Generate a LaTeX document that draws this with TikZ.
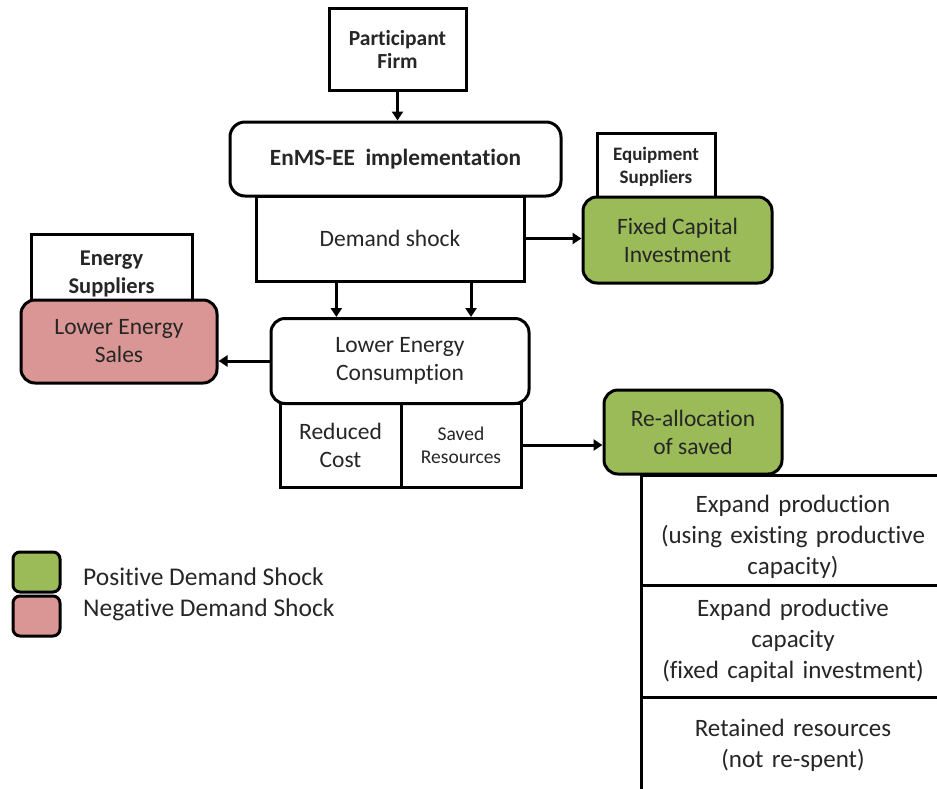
\documentclass[tikz,border=0pt]{standalone}
\usepackage{fontspec}
\setmainfont[Ligatures=NoCommon]{Carlito}
\usetikzlibrary{arrows.meta,calc}
\definecolor{posgreen}{HTML}{9BBB59}
\definecolor{negred}{HTML}{D99694}
\definecolor{txt}{HTML}{262626}
\tikzset{
  box/.style={draw=black, line width=3pt, fill=white, align=center, text=txt, inner sep=2pt},
  rbox/.style={box, rounded corners=14pt},
  arr/.style={line width=3pt, -{Triangle[width=11pt,length=9pt]}},
  fmain/.style={font=\fontsize{23.5}{28}\selectfont},
  fsmall/.style={font=\fontsize{19.5}{23}\selectfont},
  fright/.style={font=\fontsize{25}{31}\selectfont},
  flegend/.style={font=\fontsize{25.5}{30}\selectfont},
}
\begin{document}
\begin{tikzpicture}[x=1pt,y=-1pt]
\useasboundingbox (0,0) rectangle (937,788);
% top
\node[box,font=\fontsize{21.5}{23}\selectfont\bfseries,minimum width=137pt,minimum height=82pt] (pf) at (397.5,49) {Participant\\Firm};
\node[box,rounded corners=15pt,font=\fontsize{23.3}{27}\selectfont\bfseries,minimum width=331pt,minimum height=74pt] (enms) at (395.5,159) {EnMS-EE\ \ implementation};
\node[box,fmain,minimum width=268pt,minimum height=85pt] (ds) at (390,238.5) {Demand shock};
% equipment suppliers / fixed capital
\node[box,font=\fontsize{19}{23}\selectfont\bfseries,minimum width=118pt,minimum height=67pt] (eq) at (656,166.5) {Equipment\\Suppliers};
\node[rbox,fill=posgreen,fmain,minimum width=189pt,minimum height=86pt] (fci) at (677.5,240) {Fixed Capital\\Investment};
% energy suppliers / lower energy sales
\node[box,font=\fontsize{22.5}{28}\selectfont\bfseries,minimum width=161pt,minimum height=80pt] (es) at (111.5,274) {Energy\\Suppliers};
\node[rbox,fill=negred,fmain,minimum width=196pt,minimum height=83pt] (les) at (119,341.5) {Lower Energy\\Sales};
% lower energy consumption
\node[box,fmain,minimum width=121pt,minimum height=84pt] (rc) at (340.5,445) {Reduced\\Cost};
\node[box,fsmall,minimum width=120pt,minimum height=84pt] (sr) at (461,445) {Saved\\Resources};
\node[rbox,fmain,minimum width=258pt,minimum height=85pt] (lec) at (400,361) {Lower Energy\\Consumption};
% re-allocation
\node[rbox,fill=posgreen,fmain,minimum width=178pt,minimum height=84pt] (ra) at (693,432) {Re-allocation\\of saved};
\begin{scope}
\clip (0,0) rectangle (937,788);
\node[box,fright,minimum width=304pt,minimum height=124pt,text width=296pt] (r1) at (793,537) {Expand production\\(using existing productive\\capacity)};
\node[box,fright,minimum width=304pt,minimum height=112pt,text width=296pt] (r2) at (793,641) {Expand productive\\capacity\\(fixed capital investment)};
\node[box,fright,minimum width=304pt,minimum height=96pt,text width=296pt] (r3) at (793,745) {Retained resources\\(not re-spent)};
\end{scope}
% legend
\node[rbox,rounded corners=7pt,fill=posgreen,minimum width=47pt,minimum height=40pt] (lg) at (36.5,572) {};
\node[rbox,rounded corners=7pt,fill=negred,minimum width=47pt,minimum height=40pt] (lr) at (36.5,616) {};
\node[anchor=west,text=txt,flegend,inner sep=0pt] (lgt) at (83,577) {Positive Demand Shock};
\node[anchor=west,text=txt,flegend,inner sep=0pt] (lrt) at (83,610) {Negative Demand Shock};
% arrows
\draw[arr] (pf.south) -- (pf.south |- enms.north);
\coordinate (d1) at ($(ds.south west)!0.302!(ds.south east)$);
\coordinate (d2) at ($(ds.south west)!0.799!(ds.south east)$);
\draw[arr] (d1) -- (d1 |- lec.north);
\draw[arr] (d2) -- (d2 |- lec.north);
\draw[arr] (ds.east) -- (ds.east -| fci.west);
\draw[arr] (lec.west) -- (lec.west -| les.east);
\draw[arr] (sr.east) -- (sr.east -| ra.west);
\end{tikzpicture}
\end{document}
